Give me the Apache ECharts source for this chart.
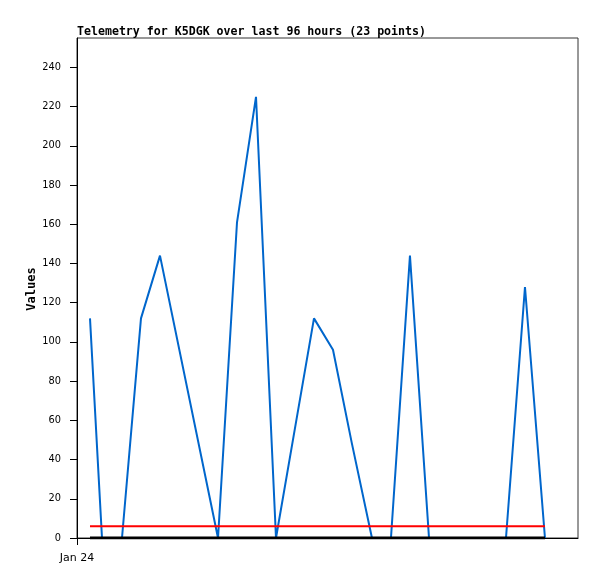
<!DOCTYPE html>
<html>
<head>
<meta charset="utf-8">
<script src="https://cdn.jsdelivr.net/npm/echarts@6/dist/echarts.min.js"></script>
<style>html,body{margin:0;padding:0;background:#fff}#c{width:597px;height:579px}</style>
</head>
<body>
<div id="c"></div>
<script>
// Hours since Jan 24 00:00
var hours = [2.49, 4.79, 8.62, 12.26, 15.90, 27.02, 30.66, 34.30, 38.13, 41.77, 45.41, 49.05,
             52.69, 56.52, 60.16, 63.80, 67.45, 71.09, 74.73, 78.56, 82.20, 85.84, 89.67];
var values = [112, 0, 0, 112, 144, 0, 161, 225, 0, 56, 112, 96,
              48, 0, 0, 144, 0, 0, 0, 0, 0, 128, 0];
var redLevel = 6;
var blackLevel = 0;
var yTicks = [0, 20, 40, 60, 80, 100, 120, 140, 160, 180, 200, 220, 240];
var xTicks = [0];
var xTickLabels = ['Jan 24'];
var titleText = 'Telemetry for K5DGK over last 96 hours (23 points)';
var yAxisName = 'Values';

function pairs(xs, ys) { return xs.map(function (x, i) { return [x, ys[i]]; }); }
var blueData = pairs(hours, values);
var redData = hours.map(function (h) { return [h, redLevel]; });
var blackData = hours.map(function (h) { return [h, blackLevel]; });

var chart = echarts.init(document.getElementById('c'), null, { renderer: 'canvas' });
chart.setOption({
  animation: false,
  backgroundColor: '#fff',
  title: {
    text: titleText, left: 77, top: 26, padding: 0,
    textStyle: { fontFamily: 'DejaVu Sans Mono', fontWeight: 'bold', fontSize: 11.6, color: '#000' }
  },
  graphic: [{
    type: 'text', x: 32, y: 289, rotation: Math.PI / 2,
    style: { text: yAxisName, align: 'center', verticalAlign: 'middle',
      font: 'bold 12px "DejaVu Sans Mono"', fill: '#000' }
  }],
  grid: { left: 77, top: 38, right: 19, bottom: 41, show: true, borderColor: '#333', borderWidth: 1, containLabel: false },
  xAxis: {
    type: 'value', min: 0, max: 96,
    axisLine: { show: true, onZero: false, lineStyle: { color: '#000', width: 1 } },
    axisTick: { show: true, length: 7, customValues: xTicks, lineStyle: { color: '#000' } },
    axisLabel: {
      customValues: xTicks, margin: 15,
      formatter: function (v) { var i = xTicks.indexOf(v); return i >= 0 ? xTickLabels[i] : ''; },
      fontFamily: 'DejaVu Sans', fontSize: 11, color: '#000'
    },
    splitLine: { show: false }
  },
  yAxis: {
    type: 'value', min: 0, max: 255,
    axisLine: { show: true, lineStyle: { color: '#000', width: 1 } },
    axisTick: { show: true, length: 7, customValues: yTicks, lineStyle: { color: '#000' } },
    axisLabel: { customValues: yTicks, margin: 16, fontFamily: 'DejaVu Sans', fontSize: 9.8, color: '#000' },
    splitLine: { show: false }
  },
  series: [
    { type: 'line', data: blueData, showSymbol: false, z: 2,
      lineStyle: { color: '#0066cc', width: 2 }, itemStyle: { color: '#0066cc' } },
    { type: 'line', data: redData, showSymbol: false, z: 3,
      lineStyle: { color: '#ff0000', width: 2 }, itemStyle: { color: '#ff0000' } },
    { type: 'line', data: blackData, showSymbol: false, z: 4,
      lineStyle: { color: '#000000', width: 3 }, itemStyle: { color: '#000' } }
  ]
});
</script>
</body>
</html>
